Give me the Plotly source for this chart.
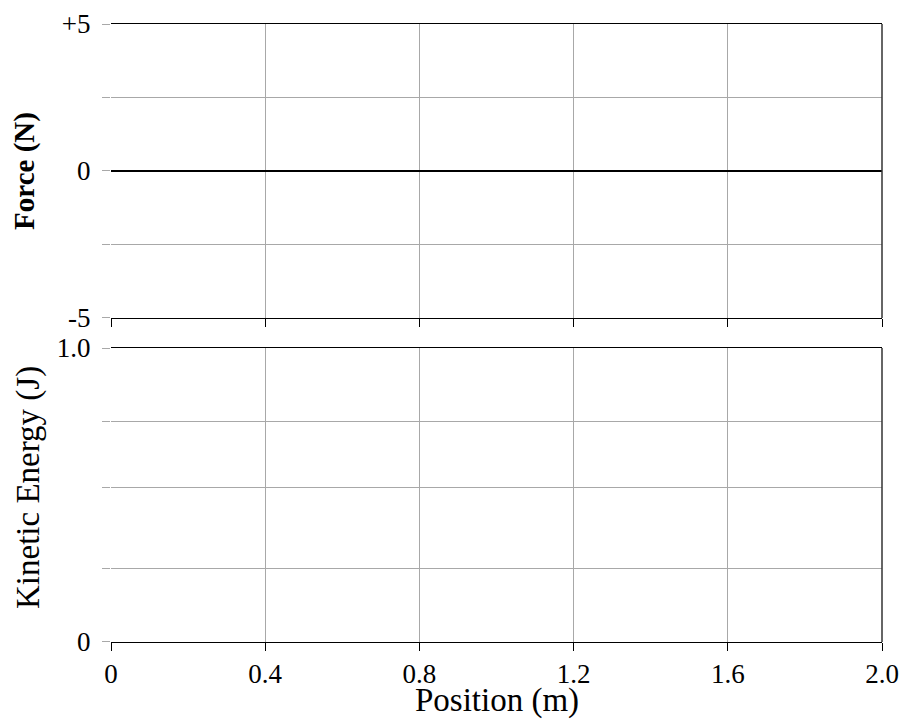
import plotly.graph_objects as go
from plotly.subplots import make_subplots

# Data (the reference graphs are empty: no measurements plotted)
position_m = []
force_N = []
kinetic_energy_J = []

x_tickvals = [0, 0.4, 0.8, 1.2, 1.6, 2.0]
x_ticktext = ["0", "0.4", "0.8", "1.2", "1.6", "2.0"]
force_tickvals = [-5, -2.5, 0, 2.5, 5]
force_ticktext = ["-5", "", "0", "", "+5"]
ke_tickvals = [0, 0.25, 0.525, 0.75, 1.0]
ke_ticktext = ["0", "", "", "", "1.0"]

FONT = "Liberation Serif, Times New Roman, serif"
GRID = "#a8a8a8"
TICKFONT = dict(family=FONT, size=27, color="black")

fig = make_subplots(rows=2, cols=1, shared_xaxes=False, vertical_spacing=0.0486)
fig.add_trace(go.Scatter(x=position_m, y=force_N, mode="lines", line=dict(color="black")), row=1, col=1)
fig.add_trace(go.Scatter(x=position_m, y=kinetic_energy_J, mode="lines", line=dict(color="black")), row=2, col=1)

xcommon = dict(range=[0, 2.0], tickmode="array", tickvals=x_tickvals, ticktext=x_ticktext,
               showgrid=True, gridcolor=GRID, gridwidth=1, zeroline=False,
               showline=True, linecolor="black", linewidth=1, mirror=True,
               ticks="outside", ticklen=8, tickcolor="black", tickwidth=1, automargin=False)
fig.update_xaxes(**xcommon, showticklabels=False, row=1, col=1)
fig.update_xaxes(**xcommon, showticklabels=True, tickfont=TICKFONT, row=2, col=1)

fig.update_yaxes(range=[-5, 5], tickmode="array", tickvals=force_tickvals, ticktext=force_ticktext,
                 showgrid=True, gridcolor=GRID, gridwidth=1,
                 zeroline=True, zerolinecolor="black", zerolinewidth=1.5,
                 showline=False, ticks="outside", ticklen=8, tickcolor=GRID, tickwidth=1,
                 tickfont=TICKFONT, ticklabelstandoff=6,
                 title=dict(text="<b>Force (N)</b>", font=dict(family=FONT, size=29, color="black"), standoff=20),
                 automargin=False, row=1, col=1)
fig.update_yaxes(range=[0, 1.0], tickmode="array", tickvals=ke_tickvals, ticktext=ke_ticktext,
                 showgrid=True, gridcolor=GRID, gridwidth=1, zeroline=False,
                 showline=False, ticks="outside", ticklen=8, tickcolor=GRID, tickwidth=1,
                 tickfont=TICKFONT, ticklabelstandoff=6,
                 automargin=False, row=2, col=1)

# axis titles placed as in the reference
fig.add_annotation(text="Kinetic Energy (J)", xref="paper", yref="paper", x=-0.1077, y=0.2508,
                   xanchor="center", yanchor="middle", textangle=-90, showarrow=False,
                   font=dict(family=FONT, size=33, color="black"))
fig.add_annotation(text="Position (m)", xref="paper", yref="paper", x=0.5, y=-0.0939,
                   xanchor="center", yanchor="middle", showarrow=False,
                   font=dict(family=FONT, size=33, color="black"))

# right-hand frame edges
for yref in ["y domain", "y2 domain"]:
    xr = "x domain" if yref == "y domain" else "x2 domain"
    fig.add_shape(type="line", xref=xr, yref=yref, x0=1, x1=1, y0=0, y1=1,
                  line=dict(color="#333333", width=1.5))

fig.update_layout(width=901, height=711, showlegend=False,
                  margin=dict(l=103, r=27, t=16, b=77),
                  plot_bgcolor="white", paper_bgcolor="white",
                  font=dict(family=FONT, color="black"))

fig.write_html("out.html")
